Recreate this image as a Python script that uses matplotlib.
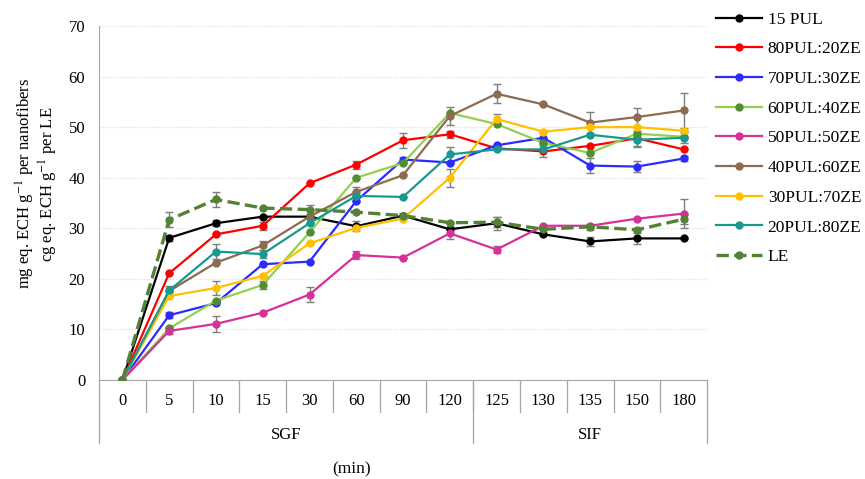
import matplotlib
matplotlib.use("Agg")
import matplotlib.pyplot as plt
import matplotlib.transforms as mtransforms

plt.rcParams["font.family"] = ["Liberation Serif", "DejaVu Serif"]
plt.rcParams["mathtext.fontset"] = "stix"

times = ["0", "5", "10", "15", "30", "60", "90", "120", "125", "130", "135", "150", "180"]
groups = ["SGF", "SIF"]
group_sizes = [8, 5]

labels = ["15 PUL", "80PUL:20ZE", "70PUL:30ZE", "60PUL:40ZE", "50PUL:50ZE",
          "40PUL:60ZE", "30PUL:70ZE", "20PUL:80ZE", "LE"]

pul15 = [0, 28.1, 31.0, 32.3, 32.3, 30.4, 32.5, 29.8, 31.0, 28.8, 27.4, 28.0, 28.0]
pul80 = [0, 21.1, 28.8, 30.5, 38.9, 42.6, 47.4, 48.6, 45.8, 45.2, 46.3, 47.8, 45.6]
pul70 = [0, 12.8, 15.2, 22.9, 23.4, 35.4, 43.6, 43.0, 46.4, 47.9, 42.4, 42.2, 43.8]
pul60 = [0, 10.2, 15.7, 18.8, 29.2, 40.0, 42.9, 52.8, 50.6, 46.9, 44.9, 48.7, 48.1]
pul50 = [0, 9.7, 11.1, 13.3, 16.9, 24.7, 24.2, 29.0, 25.8, 30.5, 30.5, 31.9, 32.9]
pul40 = [0, 17.6, 23.2, 26.6, 32.3, 37.2, 40.5, 52.2, 56.6, 54.5, 50.9, 52.0, 53.3]
pul30 = [0, 16.6, 18.2, 20.6, 27.0, 30.1, 31.9, 40.0, 51.6, 49.1, 50.0, 50.0, 49.3]
pul20 = [0, 17.7, 25.4, 24.9, 31.0, 36.4, 36.2, 44.6, 45.6, 45.6, 48.5, 47.5, 47.9]
le = [0, 31.7, 35.7, 34.0, 33.7, 33.2, 32.5, 31.1, 31.2, 29.8, 30.3, 29.7, 31.8]

err15 = [0, 0.6, 0.6, 0, 0, 1.0, 0, 0, 1.3, 0, 0.9, 1.1, 0]
err80 = [0, 0, 0, 0.8, 0, 0.8, 1.5, 0.7, 0, 0, 0, 1.5, 0]
err70 = [0, 0.6, 0, 0, 0, 0, 0.5, 0, 0, 1.4, 1.4, 1.1, 0.5]
err60 = [0, 0, 0, 0.8, 0, 0, 0, 0, 0, 0, 0, 0, 0]
err50 = [0, 0.7, 1.6, 0, 1.5, 0.8, 0, 1.2, 0.7, 0, 0, 0, 2.8]
err40 = [0, 0, 0, 0.8, 0, 0.9, 0, 1.8, 1.9, 0, 2.0, 1.7, 3.5]
err30 = [0, 0, 1.3, 0, 0, 0, 0, 1.8, 1.0, 0, 0, 0, 0]
err20 = [0, 0.8, 1.5, 0.8, 0, 0, 0, 1.4, 0, 1.5, 0, 1.4, 1.0]
errle = [0, 1.5, 1.5, 0, 0.9, 0, 0.5, 0, 1.0, 0, 0.6, 0, 1.0]

series = [pul15, pul80, pul70, pul60, pul50, pul40, pul30, pul20, le]
errors = [err15, err80, err70, err60, err50, err40, err30, err20, errle]
line_colors = ["#000000", "#ff0000", "#2b2bff", "#92d050", "#d6309a",
               "#8c6b4e", "#ffc000", "#18998f", "#548235"]
marker_colors = ["#000000", "#ff0000", "#2b2bff", "#4f8f2f", "#d6309a",
                 "#8c6b4e", "#ffc000", "#18998f", "#548235"]

fig = plt.figure(figsize=(8.65, 4.79), dpi=100)
ax = fig.add_axes([0.1145, 0.2067, 0.7029, 0.739])

x = list(range(len(times)))
for vals, err, lc, mc, lab in zip(series, errors, line_colors, marker_colors, labels):
    ls = "--" if lab == "LE" else "-"
    lw = 2.4 if lab == "LE" else 1.6
    ax.errorbar(x, vals, yerr=err, fmt="none", ecolor="#7f7f7f",
                elinewidth=1.0, capsize=3, capthick=1.0, zorder=2)
    ax.plot(x, vals, linestyle=ls, color=lc, linewidth=lw, marker="o",
            markersize=5, markerfacecolor=mc, markeredgecolor=mc, label=lab, zorder=3)

ax.set_xlim(-0.5, len(times) - 0.5)
ax.set_ylim(0, 70)
ax.set_yticks(range(0, 71, 10))
ax.yaxis.grid(True, color="#d9d9d9", linestyle=":", linewidth=0.8)
ax.set_axisbelow(True)
for s in ["top", "right"]:
    ax.spines[s].set_visible(False)
ax.spines["left"].set_color("#a6a6a6")
ax.spines["bottom"].set_color("#a6a6a6")
ax.tick_params(axis="y", length=0, labelsize=12, pad=10)
ax.set_xticks([])

# two-level category axis
trans = mtransforms.blended_transform_factory(ax.transData, ax.transAxes)
for i, t in enumerate(times):
    ax.text(i, -0.058, t, transform=trans, ha="center", va="center", fontsize=12)
for i in range(1, len(times)):
    ax.plot([i - 0.5, i - 0.5], [0, -0.09], transform=trans, color="#a6a6a6",
            linewidth=0.9, clip_on=False)
start = -0.5
bounds = [start]
for g, n in zip(groups, group_sizes):
    end = start + n
    ax.text((start + end) / 2, -0.155, g, transform=trans, ha="center", va="center", fontsize=12)
    bounds.append(end)
    start = end
for b in bounds:
    ax.plot([b, b], [0, -0.178], transform=trans, color="#a6a6a6", linewidth=0.9, clip_on=False)

fig.text(0.407, 0.02, "(min)", ha="center", va="center", fontsize=12.5)
fig.text(0.029, 0.616, "mg eq. ECH g$^{-1}$ per nanofibers", rotation=90,
         ha="center", va="center", fontsize=12)
fig.text(0.056, 0.616, "cg eq. ECH g$^{-1}$ per LE", rotation=90,
         ha="center", va="center", fontsize=12)

ax.legend(loc="upper left", bbox_to_anchor=(0.989, 1.085), frameon=False, fontsize=12.5,
          handlelength=2.65, labelspacing=0.78, numpoints=1, handletextpad=0.33)

fig.savefig("out.png", dpi=100)
